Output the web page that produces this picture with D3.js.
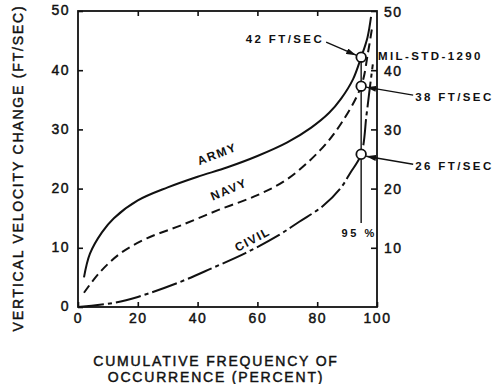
<!DOCTYPE html>
<html>
<head>
<meta charset="utf-8">
<script src="https://cdn.jsdelivr.net/npm/d3@7"></script>
<style>
  body { margin: 0; background: #fff; }
  svg { display: block; }
  text { font-family: "Liberation Sans", Arial, Helvetica, sans-serif; fill: #111; }
  .heavy { stroke: #111; stroke-width: 0.45px; }
</style>
</head>
<body>
<div id="viz"></div>
<script>
// values: [percent, ft/sec]
var ARMY = [[2,5],[4,9],[8,12.6],[12,15],[20,18],[30,20.2],[40,22],[50,23.6],[60,25.5],[70,27.8],[78,30.3],[84,32.8],[88,35.2],[92,38.5],[94.7,42.2],[96.8,45.5],[98,49]];
var NAVY = [[2,2.4],[7,5.7],[14,9],[23,11.6],[34,13.7],[47,16.4],[60,18.9],[70,21.6],[81,26.5],[88,31],[94.7,37.3],[97,43],[98.3,47]];
var CIVIL = [[0,0],[12,0.7],[20,1.7],[34,4.2],[45,6.6],[56,9.1],[67,12.1],[74,14.4],[82,17.1],[88,20.2],[91,22.6],[94.7,25.8],[96.5,32.5],[97.6,37],[98.6,41]];

var X_TICKS = [0, 20, 40, 60, 80, 100];
var TOP_TICKS = [20, 40, 60, 80];
var Y_TICKS = [0, 10, 20, 30, 40, 50];
var RIGHT_TICKS = [10, 20, 30, 40, 50];

var MARK_X = 94.7;
var MARKS = [42.2, 37.3, 25.8];
var MARK_LABELS = ['42 FT/SEC', '38 FT/SEC', '26 FT/SEC'];
var LINE_BOTTOM = 14.2;

var W = 498, H = 384;
var svg = d3.select("#viz").append("svg")
    .attr("width", W)
    .attr("height", H);

svg.append("rect").attr("width", W).attr("height", H).attr("fill", "#fff");

var x = d3.scaleLinear().domain([0, 100]).range([78, 377]);
var y = d3.scaleLinear().domain([0, 50]).range([307, 11]);

function styleAxis(g) {
  g.select(".domain").remove();
  g.selectAll(".tick line").attr("stroke", "#111").attr("stroke-width", 1.6);
  g.selectAll(".tick text")
    .attr("class", "heavy")
    .style("font-size", "14px")
    .style("letter-spacing", "1.5px")
    .attr("fill", "#111");
}

// left
svg.append("g")
    .attr("transform", "translate(" + x(0) + ",0)")
    .call(d3.axisLeft(y).tickValues(Y_TICKS).tickSize(-5).tickPadding(8).tickFormat(d3.format("d")))
    .call(styleAxis)
    .selectAll(".tick text").attr("dy", "0.28em");

// bottom
svg.append("g")
    .attr("transform", "translate(0," + y(0) + ")")
    .call(d3.axisBottom(x).tickValues(X_TICKS).tickSize(-5).tickPadding(6).tickFormat(d3.format("d")))
    .call(styleAxis);

// right
svg.append("g")
    .attr("transform", "translate(" + x(100) + ",0)")
    .call(d3.axisRight(y).tickValues(RIGHT_TICKS).tickSize(-6).tickPadding(7).tickFormat(d3.format("d")))
    .call(styleAxis)
    .selectAll(".tick text").attr("dy", "0.36em");

// top
svg.append("g")
    .attr("transform", "translate(0," + y(50) + ")")
    .call(d3.axisTop(x).tickValues(TOP_TICKS).tickSize(-5).tickFormat(""))
    .call(styleAxis);

// frame
svg.append("rect")
    .attr("x", x(0)).attr("y", y(50))
    .attr("width", x(100) - x(0)).attr("height", y(0) - y(50))
    .attr("fill", "none").attr("stroke", "#111").attr("stroke-width", 1.8);

var line = d3.line()
    .x(d => x(d[0]))
    .y(d => y(d[1]))
    .curve(d3.curveCatmullRom.alpha(0.5));

var series = [
  {data: ARMY, dash: null},
  {data: NAVY, dash: "9,5"},
  {data: CIVIL, dash: "26,4,4,4"},
];

series.forEach(function (s) {
  svg.append("path")
      .datum(s.data)
      .attr("d", line)
      .attr("fill", "none")
      .attr("stroke", "#111")
      .attr("stroke-width", 2)
      .attr("stroke-dasharray", s.dash);
});

// curve names
var curveNames = [
  {t: "ARMY", p: 47, v: 25.2, a: -21},
  {t: "NAVY", p: 51, v: 19.2, a: -23},
  {t: "CIVIL", p: 59, v: 10.8, a: -28},
];
curveNames.forEach(function (c) {
  svg.append("text")
      .attr("transform", "translate(" + x(c.p) + "," + y(c.v) + ") rotate(" + c.a + ")")
      .attr("text-anchor", "middle")
      .style("font-size", "12px")
      .style("font-weight", "bold")
      .style("letter-spacing", "1.5px")
      .text(c.t);
});

// 95 % line
svg.append("line")
    .attr("x1", x(MARK_X)).attr("x2", x(MARK_X))
    .attr("y1", y(MARKS[0])).attr("y2", y(LINE_BOTTOM))
    .attr("stroke", "#111").attr("stroke-width", 1.4);

svg.append("text")
    .attr("x", x(MARK_X) - 2).attr("y", y(LINE_BOTTOM) + 14)
    .attr("text-anchor", "middle")
    .style("font-size", "11px")
    .style("font-weight", "bold")
    .style("letter-spacing", "2.5px")
    .text("95 %");

// arrow heads
svg.append("defs").append("marker")
    .attr("id", "arrow")
    .attr("viewBox", "0 0 10 6")
    .attr("refX", 10).attr("refY", 3)
    .attr("markerWidth", 10).attr("markerHeight", 6)
    .attr("markerUnits", "userSpaceOnUse")
    .attr("orient", "auto")
  .append("path")
    .attr("d", "M0,0L10,3L0,6Z")
    .attr("fill", "#111");

var cx = x(MARK_X);
var arrows = [
  {from: [cx - 35, y(MARKS[0]) - 15], to: [cx - 5, y(MARKS[0]) - 2]},
  {from: [cx + 52, y(MARKS[1]) + 9], to: [cx + 5, y(MARKS[1]) + 1]},
  {from: [cx + 52, y(MARKS[2]) + 10], to: [cx + 5, y(MARKS[2]) + 2]},
];
arrows.forEach(function (a) {
  svg.append("line")
      .attr("x1", a.from[0]).attr("y1", a.from[1])
      .attr("x2", a.to[0]).attr("y2", a.to[1])
      .attr("stroke", "#111").attr("stroke-width", 1.4)
      .attr("marker-end", "url(#arrow)");
});

svg.selectAll(".mark")
    .data(MARKS)
  .enter().append("circle")
    .attr("class", "mark")
    .attr("cx", cx)
    .attr("cy", d => y(d))
    .attr("r", 4.8)
    .attr("fill", "#fff")
    .attr("stroke", "#111")
    .attr("stroke-width", 1.8);

function note(txt, px, py, anchor) {
  svg.append("text")
      .attr("x", px).attr("y", py)
      .attr("text-anchor", anchor)
      .style("font-size", "11.5px")
      .style("font-weight", "bold")
      .style("letter-spacing", "2.4px")
      .text(txt);
}
note(MARK_LABELS[0], cx - 37, y(MARKS[0]) - 14, "end");
note("MIL-STD-1290", x(100) + 1, y(MARKS[0]) + 3, "start");
note(MARK_LABELS[1], cx + 54, y(MARKS[1]) + 15, "start");
note(MARK_LABELS[2], cx + 54, y(MARKS[2]) + 16, "start");

// axis titles
svg.append("text")
    .attr("class", "heavy")
    .attr("transform", "translate(23," + 168 + ") rotate(-90)")
    .attr("text-anchor", "middle")
    .style("font-size", "14px")
    .style("letter-spacing", "1.8px")
    .text("VERTICAL VELOCITY CHANGE (FT/SEC)");

var xTitle = svg.append("text")
    .attr("class", "heavy")
    .attr("text-anchor", "middle")
    .style("font-size", "14px")
    .style("letter-spacing", "1.8px");
xTitle.append("tspan").attr("x", 216).attr("y", 366).text("CUMULATIVE FREQUENCY OF");
xTitle.append("tspan").attr("x", 216).attr("y", 382).text("OCCURRENCE (PERCENT)");
</script>
</body>
</html>
